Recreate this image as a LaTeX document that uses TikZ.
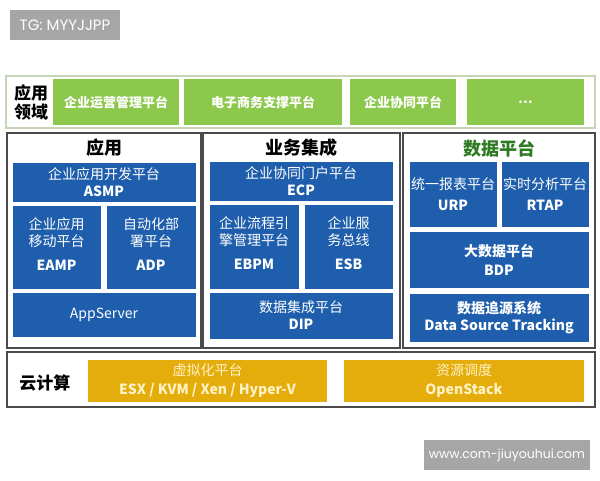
\documentclass[tikz,border=0pt]{standalone}
\usepackage{fontspec}
\setmainfont{Noto Sans CJK SC}
\newfontfamily\wmfont{Poppins}
\usetikzlibrary{shapes,calc}

\definecolor{appblue}{HTML}{1E5EAC}
\definecolor{fieldgreen}{HTML}{8CC84B}
\definecolor{cloudgold}{HTML}{E4AD0C}
\definecolor{cloudtext}{HTML}{FFF2C4}
\definecolor{titlegreen}{HTML}{2E7A22}
\definecolor{wmgray}{HTML}{A6A6A6}
\definecolor{paneledge}{HTML}{4B4B4B}
\definecolor{rowedge}{HTML}{C6D4B8}

\begin{document}
\begin{tikzpicture}
	[x=1pt,y=-1pt,every node/.style={shape=rectangle,inner sep=0pt,align=center},
	bluebox/.style={fill=appblue,draw=white,line width=0.6pt,text=white,
		font=\fontsize{14}{17}\selectfont},
	greenbox/.style={fill=fieldgreen,text=white,minimum height=46pt,
		font=\bfseries\fontsize{13}{16}\selectfont},
	goldbox/.style={fill=cloudgold,text=cloudtext,minimum width=240pt,minimum height=42pt,
		font=\fontsize{14}{19}\selectfont},
	panel/.style={draw=paneledge,line width=1.2pt,minimum height=215pt},
	rowframe/.style={draw=rowedge,line width=1.5pt},
	paneltitle/.style={font=\bfseries\fontsize{18}{20}\selectfont},
	rowlabel/.style={font=\bfseries\fontsize{17}{19}\selectfont},
	watermark/.style={fill=wmgray,text=white,minimum height=30pt,font=\wmfont\fontsize{12.5}{14}\selectfont}]
	
	\fill[white] (0,0) rectangle (600,480);
	\useasboundingbox (0,0) rectangle (600,480);
	
	\node[watermark,minimum width=110pt,font=\wmfont\fontsize{15}{16}\selectfont] (tg) at (65,25) {TG: MYYJJPP};
	
	% application fields
	\node[rowframe,minimum width=589pt,minimum height=52pt] (fields) at (300.5,102) {};
	\node[rowlabel] (fieldslabel) at (31,102.5) {应用\\领域};
	\foreach \n/\x/\w/\t in {f1/116/126/企业运营管理平台, f2/263/158/电子商务支撑平台,
		f3/403/106/企业协同平台, f4/525.5/117/\ldots}
	{
		\node[greenbox,minimum width=\w pt] (\n) at (\x,102) {\t};
	}
	
	% three panels
	\node[panel,minimum width=194pt] (app) at (104,240.5) {};
	\node[panel,minimum width=197pt] (integ) at (301.5,240.5) {};
	\node[panel,minimum width=192pt] (data) at (499,240.5) {};
	\node[paneltitle] (apptitle) at (104,148) {应用};
	\node[paneltitle] (integtitle) at (301.5,148) {业务集成};
	\node[paneltitle,text=titlegreen] (datatitle) at (499,148) {数据平台};
	
	\node[bluebox,minimum width=184pt,minimum height=40pt] (asmp) at (104,182)
		{企业应用开发平台\\\textbf{ASMP}};
	\node[bluebox,minimum width=89pt,minimum height=84pt,text depth=6pt] (eamp) at (56.5,247)
		{企业应用\\移动平台\\[7pt]\textbf{EAMP}};
	\node[bluebox,minimum width=90pt,minimum height=84pt,text depth=6pt] (adp) at (151,247)
		{自动化部\\署平台\\[7pt]\textbf{ADP}};
	\node[bluebox,minimum width=184pt,minimum height=45pt] (appserver) at (104,314.5)
		{AppServer};
	
	\node[bluebox,minimum width=184pt,minimum height=40pt] (ecp) at (301,181)
		{企业协同门户平台\\\textbf{ECP}};
	\node[bluebox,minimum width=90pt,minimum height=85pt,text depth=6pt] (ebpm) at (254,246.5)
		{企业流程引\\擎管理平台\\[7pt]\textbf{EBPM}};
	\node[bluebox,minimum width=89pt,minimum height=85pt,text depth=6pt] (esb) at (348.5,246.5)
		{企业服\\务总线\\[7pt]\textbf{ESB}};
	\node[bluebox,minimum width=184pt,minimum height=47pt] (dip) at (301,315.5)
		{数据集成平台\\\textbf{DIP}};
	
	\node[bluebox,minimum width=88pt,minimum height=66pt] (urp) at (453,194)
		{统一报表平台\\[4pt]\textbf{URP}};
	\node[bluebox,minimum width=88pt,minimum height=66pt] (rtap) at (545,194)
		{实时分析平台\\[4pt]\textbf{RTAP}};
	\node[bluebox,minimum width=180pt,minimum height=57pt,font=\bfseries\fontsize{14}{19}\selectfont]
		(bdp) at (499,259.5) {大数据平台\\BDP};
	\node[bluebox,minimum width=180pt,minimum height=49pt,font=\bfseries\fontsize{14}{17}\selectfont]
		(dst) at (499,317.5) {数据追源系统\\Data Source Tracking};
	
	% cloud computing
	\node[rowframe,draw=paneledge,line width=1.2pt,minimum width=588pt,minimum height=55pt]
		(cloud) at (301,379.5) {};
	\node[rowlabel] (cloudlabel) at (45,383) {云计算};
	\node[goldbox,minimum width=239pt] (virt) at (207.5,381)
		{虚拟化平台\\\textbf{ESX / KVM / Xen / Hyper-V}};
	\node[goldbox] (sched) at (464,381)
		{资源调度\\\textbf{OpenStack}};
	
	\node[watermark,minimum width=166pt] (site) at (507,455) {www.com-jiuyouhui.com};
\end{tikzpicture}
\end{document}
